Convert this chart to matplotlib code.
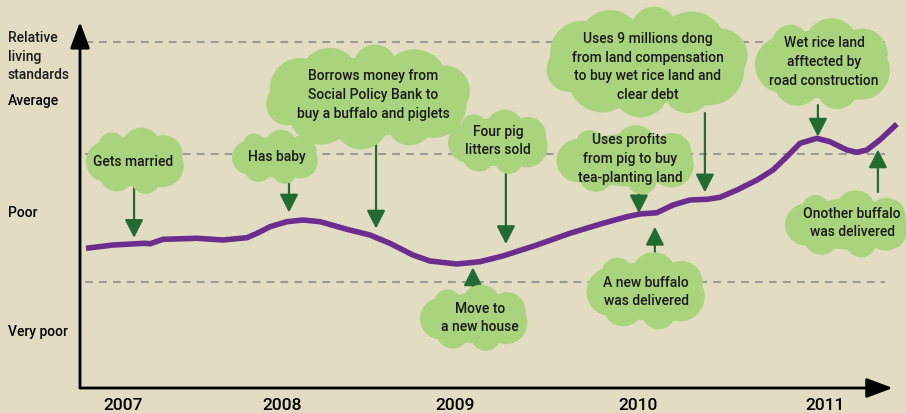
import numpy as np
import matplotlib.pyplot as plt
from matplotlib.patches import Circle, Ellipse
from matplotlib.transforms import blended_transform_factory

# ---- data
line_t = [2006.789, 2006.943, 2007.125, 2007.154, 2007.228, 2007.422, 2007.570, 2007.707,
          2007.764, 2007.838, 2007.934, 2008.026, 2008.123, 2008.276, 2008.407, 2008.521,
          2008.652, 2008.749, 2008.903, 2009.034, 2009.165, 2009.359, 2009.547, 2009.735,
          2009.872, 2009.946, 2010.043, 2010.134, 2010.231, 2010.328, 2010.402, 2010.499,
          2010.613, 2010.704, 2010.783, 2010.858, 2010.954, 2011.028, 2011.125, 2011.182,
          2011.239, 2011.313, 2011.410]
level = [3.817, 3.907, 3.954, 3.940, 4.063, 4.090, 4.044, 4.107, 4.227, 4.407, 4.544,
         4.590, 4.544, 4.336, 4.180, 3.954, 3.634, 3.470, 3.388, 3.451, 3.607, 3.907,
         4.227, 4.500, 4.680, 4.754, 4.790, 5.000, 5.137, 5.156, 5.210, 5.410, 5.683,
         5.956, 6.320, 6.686, 6.822, 6.730, 6.503, 6.440, 6.503, 6.776, 7.213]

years = ['2007', '2008', '2009', '2010', '2011']
year_pos = [2007.0, 2007.906, 2008.892, 2009.934, 2011.0]

thresholds = [2.90, 6.39, 9.45]
band_names = ['Average', 'Poor', 'Very poor']
band_pos = [7.87, 4.81, 1.58]

event_labels = ['Gets married', 'Has baby',
                'Borrows money from\nSocial Policy Bank to\nbuy a buffalo and piglets',
                'Four pig\nlitters sold', 'Move to\na new house',
                'Uses profits\nfrom pig to buy\ntea-planting land',
                'A new buffalo\nwas delivered',
                'Uses 9 millions dong\nfrom land compensation\nto buy wet rice land and\nclear debt',
                'Wet rice land\nafftected by\nroad construction',
                'Onother buffalo\nwas delivered']
event_t = [2007.063, 2007.946, 2008.442, 2009.182, 2008.994, 2009.940, 2010.031,
           2010.316, 2010.960, 2011.302]

# ---- layout (pixels)
W, H = 906, 413
bg = '#e2dcc2'
green = '#a9d37c'
dark = '#236b35'
purple = '#6b2d8e'
font = dict(family='Roboto', weight='medium', color='#1a1a1a')

# cloud centre x, y, width, height, text centre x, y, arrow base y, gap to line (px)
clouds = [(136, 161, 100, 67, 133, 162, 187, 6),
          (276, 157, 88, 55, 277, 157, 183, 9),
          (368, 97, 208, 105, 373, 95, 143, 9),
          (499, 142, 102, 65, 498, 141, 172, 11),
          (475, 318, 110, 67, 480, 318, 296, 5),
          (627, 160, 141, 70, 630, 159, 193, 1),
          (647, 291, 121, 78, 646, 292, 255, 14),
          (647, 62, 205, 111, 648, 67, 113, 7),
          (824, 64, 138, 92, 824, 62, 105, 2),
          (848, 224, 126, 68, 852, 223, 192, 8)]

fig = plt.figure(figsize=(W / 100, H / 100), dpi=100)
fig.patch.set_facecolor(bg)

ax = fig.add_axes([80 / W, 25 / H, (W - 80) / W, 366 / H])
ax.patch.set_alpha(0)
ax.set_xlim(2006.755, 2011.462)
ax.set_ylim(0, 10)
for s in ax.spines.values():
    s.set_visible(False)

for th in thresholds:
    ax.axhline(th, xmin=0.006, xmax=0.975, color='#9b9b9b', lw=1.5,
               linestyle=(0, (3.8, 2.9)), zorder=1)

ax.plot(line_t, level, color=purple, lw=4, solid_capstyle='butt',
        solid_joinstyle='round', zorder=3)

# axes with arrow heads
for end in [(0.984, 0), (0, 1)]:
    ax.annotate('', xy=end, xytext=(0, 0), xycoords='axes fraction',
                arrowprops=dict(arrowstyle='-|>,head_length=0.8,head_width=0.3', lw=2,
                                color='black', shrinkA=0, shrinkB=0, mutation_scale=20))

ax.set_xticks(year_pos, years)
ax.tick_params(axis='x', length=0, pad=7)
for lab in ax.get_xticklabels():
    lab.set_fontsize(12.5)
    lab.set_fontfamily('Roboto')
    lab.set_fontweight('medium')
ax.set_yticks(band_pos, band_names)
ax.tick_params(axis='y', length=0, pad=51.8)
for lab in ax.get_yticklabels():
    lab.set_ha('left')
    lab.set_fontsize(10)
    lab.set_fontfamily('Roboto')
    lab.set_fontweight('medium')

# overlay in pixels for the clouds
ov = fig.add_axes([0, 0, 1, 1])
ov.set_xlim(0, W)
ov.set_ylim(H, 0)
ov.axis('off')
ov.patch.set_alpha(0)

ov.text(8, 31, 'Relative\nliving\nstandards', ha='left', va='top', fontsize=10,
        linespacing=1.42, **font)


def cloud(cx, cy, w, h):
    a, b = w / 2, h / 2
    ov.add_patch(Ellipse((cx, cy), w * 0.8, h * 0.75, fc=green, ec='none', zorder=2))
    n = max(7, int(w / 20))
    for k in range(n):
        t = 2 * np.pi * k / n + 0.4
        r = b * (0.52 + 0.12 * np.cos(2.3 * k))
        ov.add_patch(Circle((cx + (a - r) * np.cos(t), cy + (b - r) * np.sin(t)), r,
                            fc=green, ec='none', zorder=2))


mix = blended_transform_factory(ax.transData, ov.transData)
for lab, t, c in zip(event_labels, event_t, clouds):
    cx, cy, w, h, tx, ty, by, gap = c
    cloud(cx, cy, w, h)
    ov.text(tx, ty, lab, ha='center', va='center', fontsize=10, linespacing=1.42,
            zorder=5, **font)
    ax.annotate('', xy=(t, np.interp(t, line_t, level)), xytext=(t, by), textcoords=mix,
                arrowprops=dict(arrowstyle='-|>,head_length=0.55,head_width=0.28',
                                lw=1.6, color=dark, shrinkA=0, shrinkB=gap / 1.389,
                                mutation_scale=20), zorder=4)

fig.savefig('out.png', dpi=100, facecolor=bg)
